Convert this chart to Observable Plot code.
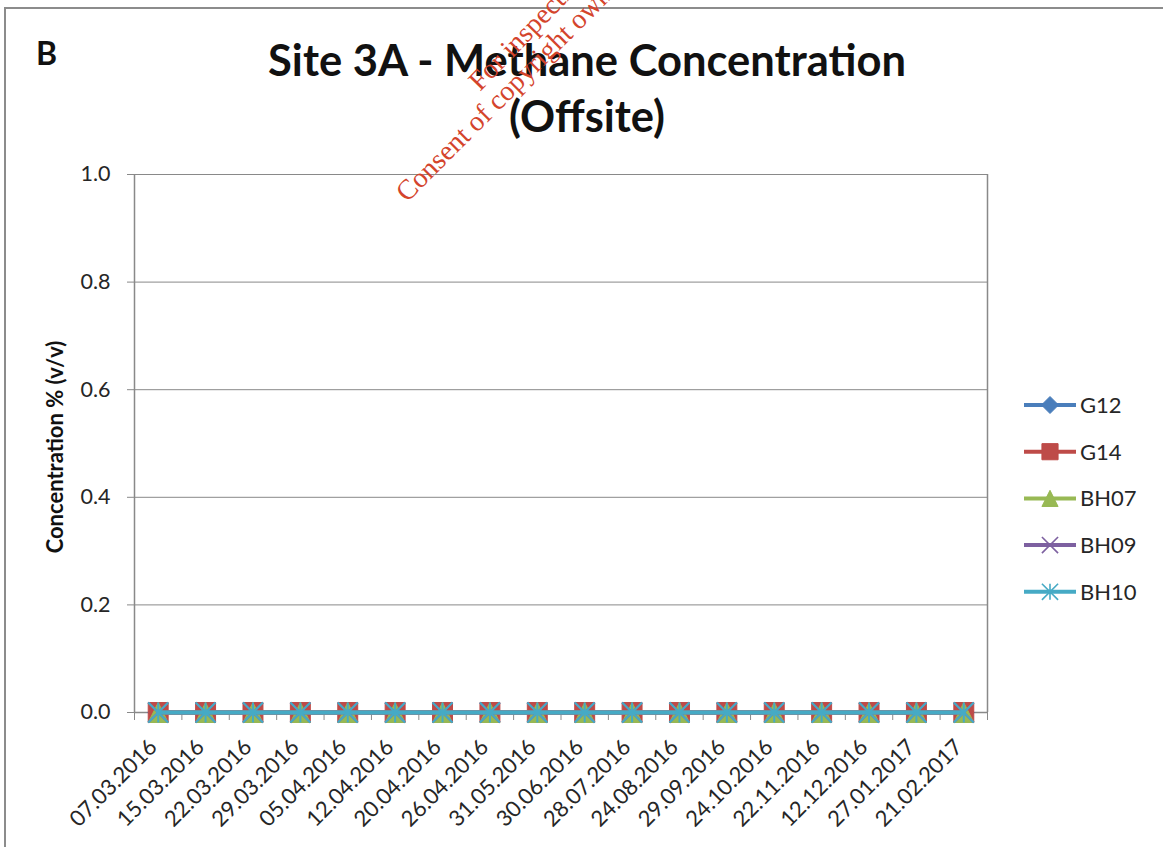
<!DOCTYPE html>
<html>
<head>
<meta charset="utf-8">
<script src="https://cdn.jsdelivr.net/npm/d3@7"></script>
<script src="https://cdn.jsdelivr.net/npm/@observablehq/plot@0.6"></script>
<style>
  html, body { margin: 0; padding: 0; background: #fff; }
  #wrap { position: relative; width: 1163px; height: 847px; overflow: hidden; background: #fff; font-family: Lato, "Open Sans", sans-serif; }
  #frame { position: absolute; left: 4px; top: 7px; width: 1200px; height: 900px; border-top: 2px solid #8c8c8c; border-left: 2px solid #8c8c8c; }
  #chart { position: absolute; left: 0; top: 0; }
  .abs { position: absolute; }
  #letter { left: 36px; top: 33px; font-weight: 700; font-size: 32px; color: #111; }
  #title { left: 237px; width: 700px; top: 31px; text-align: center; font-weight: 700; font-size: 43.5px; line-height: 56px; color: #111; }
  #legend, #mark { position: absolute; left: 0; top: 0; pointer-events: none; }
</style>
</head>
<body>
<div id="wrap">
  <div id="frame"></div>
  <div id="chart"></div>
  <div class="abs" id="letter">B</div>
  <div class="abs" id="title">Site 3A - Methane Concentration<br>(Offsite)</div>
</div>
<script>
// ---- data ----
const dates = ["07.03.2016","15.03.2016","22.03.2016","29.03.2016","05.04.2016","12.04.2016","20.04.2016","26.04.2016","31.05.2016","30.06.2016","28.07.2016","24.08.2016","29.09.2016","24.10.2016","22.11.2016","12.12.2016","27.01.2017","21.02.2017"];
const seriesNames = ["G12", "G14", "BH07", "BH09", "BH10"];
const G12  = [0,0,0,0,0,0,0,0,0,0,0,0,0,0,0,0,0,0];
const G14  = [0,0,0,0,0,0,0,0,0,0,0,0,0,0,0,0,0,0];
const BH07 = [0,0,0,0,0,0,0,0,0,0,0,0,0,0,0,0,0,0];
const BH09 = [0,0,0,0,0,0,0,0,0,0,0,0,0,0,0,0,0,0];
const BH10 = [0,0,0,0,0,0,0,0,0,0,0,0,0,0,0,0,0,0];
const yTicks = [0, 0.2, 0.4, 0.6, 0.8, 1.0];
const colors = ["#4a7ebb", "#be4b48", "#98b954", "#7d60a0", "#46aac5"];

const values = {G12, G14, BH07, BH09, BH10};

// Excel-style markers (bounding box of half-size r)
const rad = size => Math.sqrt(size / Math.PI);
const symDiamond = {draw(c, s) { const r = rad(s); c.moveTo(0,-r); c.lineTo(r,0); c.lineTo(0,r); c.lineTo(-r,0); c.closePath(); }};
const symSquare = {draw(c, s) { const r = rad(s) * 0.95; c.moveTo(-r,-r); c.lineTo(r,-r); c.lineTo(r,r); c.lineTo(-r,r); c.closePath(); }};
const symTriangle = {draw(c, s) { const r = rad(s) * 0.95; c.moveTo(0,-r); c.lineTo(r,r); c.lineTo(-r,r); c.closePath(); }};
const symX = {draw(c, s) { const r = rad(s) * 0.95; c.moveTo(-r,-r); c.lineTo(r,r); c.moveTo(r,-r); c.lineTo(-r,r); }};
const symStar = {draw(c, s) { const r = rad(s) * 0.95; c.moveTo(-r,-r); c.lineTo(r,r); c.moveTo(r,-r); c.lineTo(-r,r); c.moveTo(0,-r); c.lineTo(0,r); }};
const symbols = [symDiamond, symSquare, symTriangle, symX, symStar];
const filled = [true, true, true, false, false];

const rows = seriesNames.flatMap((name, k) => values[name].map((v, i) => ({name, k, i, v})));

const grid = "#898989";
const marks = [
  Plot.gridY(yTicks.filter(t => t > 0), {stroke: grid, strokeOpacity: 1, strokeWidth: 1}),
  Plot.ruleX([dates.length - 0.5], {stroke: grid, strokeWidth: 1.5}),
  Plot.axisY({ticks: yTicks, tickFormat: d3.format(".1f"), tickSize: 7, tickPadding: 17, fontSize: 21.5, stroke: grid, fill: "#262626", label: null}),
  Plot.axisX({ticks: dates.map((d, i) => i - 0.5).concat([dates.length - 0.5]), tickFormat: () => "", tickSize: 8, stroke: grid, label: null}),
  Plot.axisX({ticks: dates.map((d, i) => i), tickFormat: i => dates[i], tickSize: 0, tickRotate: -45, tickPadding: 31, dx: -5, fontSize: 22, fill: "#262626", label: null}),
  Plot.ruleX([-0.5], {stroke: grid, strokeWidth: 1.5}),
  Plot.ruleY([0], {stroke: grid, strokeWidth: 1.5})
];
seriesNames.forEach((name, k) => {
  const data = rows.filter(d => d.name === name);
  marks.push(Plot.line(data, {x: "i", y: "v", stroke: colors[k], strokeWidth: 4}));
  marks.push(Plot.dot(data, {
    x: "i", y: "v", r: 10.5, symbol: symbols[k],
    fill: filled[k] ? colors[k] : "none",
    stroke: colors[k], strokeWidth: filled[k] ? 1 : 2
  }));
});

const chart = Plot.plot({
  width: 1163, height: 847,
  marginLeft: 134, marginRight: 176, marginTop: 174, marginBottom: 135,
  x: {type: "linear", domain: [-0.5, dates.length - 0.5]},
  y: {domain: [0, 1]},
  style: {fontFamily: "Lato, 'Open Sans', sans-serif", background: "transparent", overflow: "visible"},
  marks
});
document.getElementById("chart").appendChild(chart);

// y-axis title
const wrap = d3.select("#wrap");
const over = wrap.append("svg").attr("id", "mark").attr("width", 1163).attr("height", 847);
over.append("text")
  .attr("transform", "translate(63,447) rotate(-90)")
  .attr("text-anchor", "middle")
  .attr("font-family", "Lato, sans-serif").attr("font-weight", 700).attr("font-size", 22)
  .attr("fill", "#111")
  .text("Concentration % (v/v)");

// legend
const lg = over.append("g");
seriesNames.forEach((name, k) => {
  const y = 405 + k * 46.7;
  lg.append("line").attr("x1", 1024).attr("x2", 1076).attr("y1", y).attr("y2", y)
    .attr("stroke", colors[k]).attr("stroke-width", 4);
  lg.append("path").attr("transform", `translate(1050,${y})`)
    .attr("d", d3.symbol(symbols[k], Math.PI * 8.5 * 8.5)())
    .attr("fill", filled[k] ? colors[k] : "none").attr("stroke", colors[k]).attr("stroke-width", filled[k] ? 1 : 1.6);
  lg.append("text").attr("x", 1080).attr("y", y).attr("dy", "0.36em")
    .attr("font-family", "Lato, sans-serif").attr("font-size", 22).attr("fill", "#262626")
    .text(name);
});

// watermark
const wm = over.append("g").attr("font-family", "'Liberation Serif', 'DejaVu Serif', serif")
  .attr("font-size", 28).attr("fill", "#d4442c");
wm.append("text").attr("transform", "translate(480,92) rotate(-46)").text("For inspection purposes only.");
wm.append("text").attr("transform", "translate(407,203) rotate(-45)").text("Consent of copyright owner required for any other use.");
</script>
</body>
</html>
